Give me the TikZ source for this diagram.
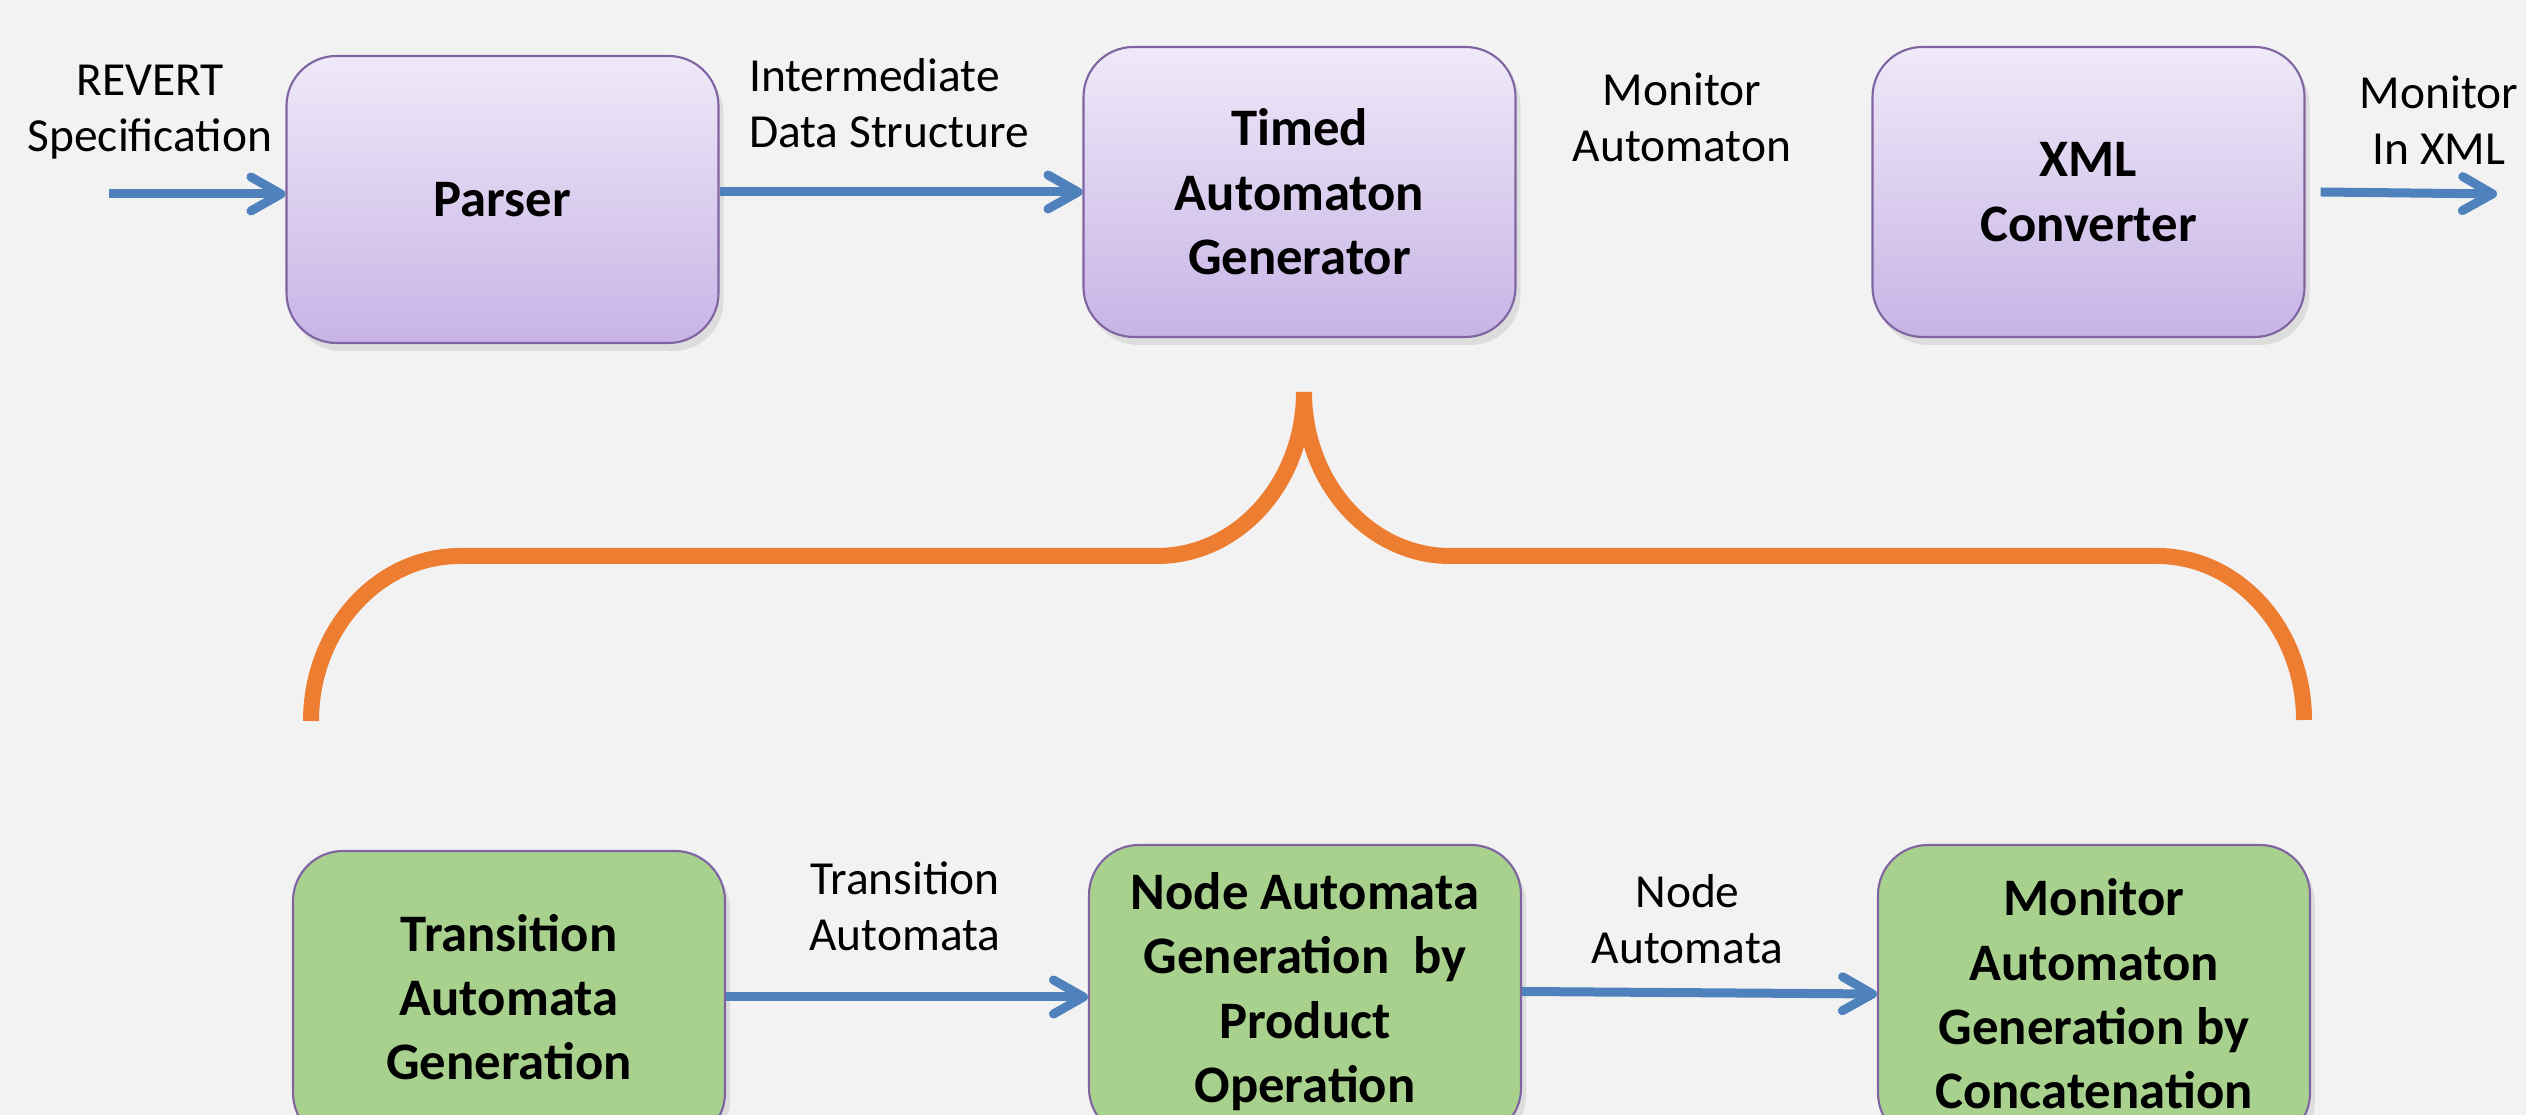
\documentclass[tikz,border=0pt]{standalone}
\usepackage{fontspec}
\setmainfont{Carlito}
\usetikzlibrary{arrows.meta,shadows}
\definecolor{slidebg}{HTML}{F2F2F2}
\definecolor{boxline}{HTML}{8064A2}
\definecolor{lilactop}{HTML}{EFE9F8}
\definecolor{lilacbot}{HTML}{C7B4E6}
\definecolor{stepgreen}{HTML}{A9D18E}
\definecolor{flowblue}{HTML}{4F81BD}
\definecolor{braceorange}{HTML}{ED7D31}

\begin{document}
\begin{tikzpicture}[
    block/.style={draw=boxline, line width=0.6pt, rounded corners=0.5cm,
      minimum width=4.32cm, align=center, inner sep=0pt,
      font=\fontsize{15}{18.3}\selectfont\bfseries,
      drop shadow={shadow xshift=0.5mm, shadow yshift=-0.8mm, opacity=0.18}},
    toolbox/.style={block, minimum height=2.9cm, top color=lilactop, bottom color=lilacbot},
    genbox/.style={block, minimum height=2.92cm, fill=stepgreen},
    flow/.style={draw=flowblue, line width=0.09cm,
      -{Straight Barb[length=3mm,width=3.4mm,round]}},
    lbl/.style={align=center, font=\fontsize{13.5}{16}\selectfont},
    brace/.style={draw=braceorange, line width=0.16cm}
  ]
  % Slide area (25.26 x 11.15), lower boxes run past the bottom edge
  \useasboundingbox (0,0) rectangle (25.26,11.15);
  \fill[slidebg] (0,0) rectangle (25.26,11.15);
  \clip (0,0) rectangle (25.26,11.15);

  % Top row: tool chain
  \node[toolbox, minimum height=2.87cm] (parser) at (5.025,9.155) {Parser};
  \node[toolbox] (timed) at (12.995,9.23) {Timed\\Automaton\\Generator};
  \node[toolbox] (xmlconv) at (20.885,9.23) {XML\\Converter};

  % Top row: data labels
  \node[lbl] (speclbl) at (1.50,10.025) {REVERT\\Specification};
  \node[lbl, align=left] (idslbl) at (8.89,10.12) {Intermediate\\Data Structure};
  \node[lbl] (malbl) at (16.82,9.975) {Monitor\\Automaton};
  \node[lbl] (xmllbl) at (24.39,9.95) {Monitor\\In XML};

  % Top row: arrows
  \coordinate (specin) at (1.09,9.21);
  \coordinate (xmlout) at (24.97,9.21);
  \draw[flow] (specin) -- (specin -| parser.west);
  \draw[flow] (parser.east |- timed.west) -- (timed.west);
  \draw[flow] ([xshift=1.5mm]xmlconv.east) -- (xmlout);

  % Brace: the generator split into three steps
  \draw[brace] (3.11,3.94) arc[start angle=180, end angle=90, x radius=1.49, y radius=1.65]
    -- (11.57,5.59) arc[start angle=270, end angle=360, x radius=1.47, y radius=1.64];
  \draw[brace] (13.04,7.23) arc[start angle=180, end angle=270, x radius=1.46, y radius=1.64]
    -- (21.57,5.59) arc[start angle=90, end angle=0, x radius=1.47, y radius=1.64];

  % Bottom row: generation steps
  \node[genbox] (transgen) at (5.09,1.18) {Transition\\Automata\\Generation};
  \node[genbox, minimum height=2.93cm] (nodegen) at (13.05,1.235)
    {Node Automata\\Generation\ \ by\\Product\\Operation};
  \node[genbox, minimum height=2.98cm] (mongen) at (20.94,1.21)
    {Monitor\\Automaton\\Generation by\\Concatenation};

  % Bottom row: labels and arrows
  \node[lbl] (talbl) at (9.05,2.09) {Transition\\Automata};
  \node[lbl] (nalbl) at (16.875,1.955) {Node\\Automata};
  \draw[flow] (transgen.east) -- (transgen.east -| nodegen.west);
  \draw[flow] (nodegen.east) -- (mongen.west);
\end{tikzpicture}
\end{document}
